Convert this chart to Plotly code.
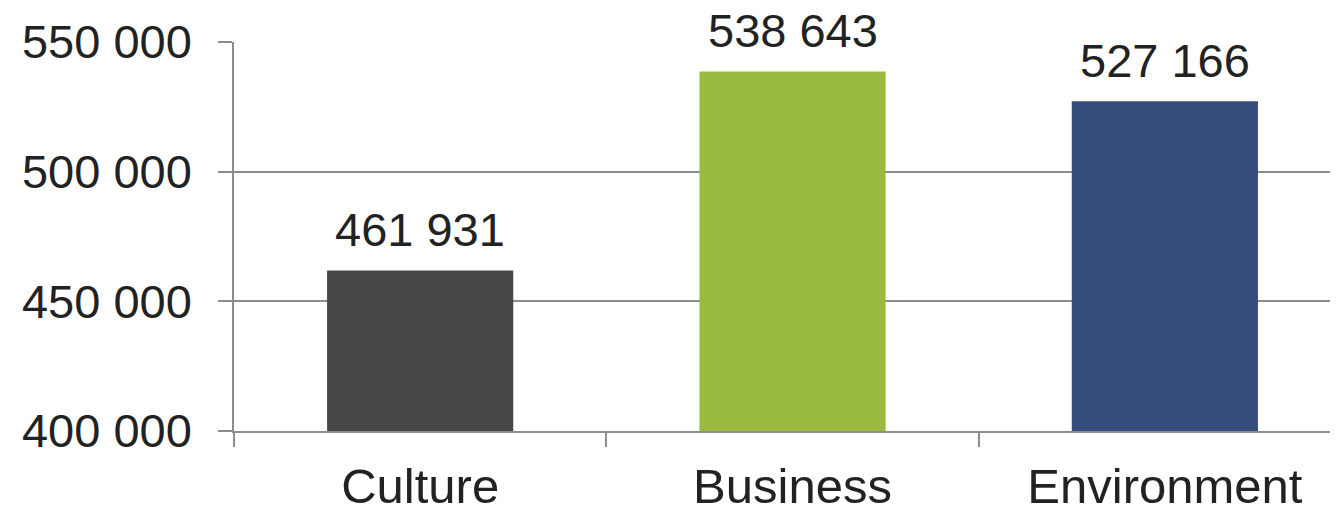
import plotly.graph_objects as go

categories = ["Culture", "Business", "Environment"]
values = [461931, 538643, 527166]
colors = ["#464646", "#9BBB40", "#354C7C"]
y_ticks = [400000, 450000, 500000, 550000]

FONT = "Liberation Sans, Arial, sans-serif"
AX = "#8C8C8C"
TXT = "#222222"

fig = go.Figure(go.Bar(
    x=categories, y=values, marker=dict(color=colors, line=dict(width=0)),
    hoverinfo="skip",
))

for c, v in zip(categories, values):
    fig.add_annotation(
        x=c, y=v, text=f"{v:,}".replace(",", " "), showarrow=False,
        yanchor="bottom", yshift=12,
        font=dict(family=FONT, size=47, color=TXT),
    )

fig.update_layout(
    width=1330, height=499, autosize=False,
    margin=dict(l=225.5, r=0, t=34, b=75.5),
    paper_bgcolor="white", plot_bgcolor="white",
    bargap=0.5, showlegend=False,
    separators=". ",
    font=dict(family=FONT, size=47, color=TXT),
)
fig.update_xaxes(
    range=[-0.5, 2.465], showline=True, linecolor=AX, linewidth=1.5,
    ticks="outside", tickson="boundaries", ticklen=14, tickcolor=AX, tickwidth=1.5,
    showgrid=False, ticklabelstandoff=11, automargin=False,
    tickfont=dict(family=FONT, size=49, color=TXT),
)
fig.update_yaxes(
    range=[400000, 550000], tickvals=y_ticks, tickformat=",",
    showline=True, linecolor=AX, linewidth=1.5,
    ticks="outside", ticklen=14, tickcolor=AX, tickwidth=1.5,
    showgrid=True, gridcolor=AX, gridwidth=1.5, zeroline=False,
    ticklabelstandoff=17, automargin=False,
    tickfont=dict(family=FONT, size=47, color=TXT),
)

fig.write_html("out.html", config={"displayModeBar": False})
